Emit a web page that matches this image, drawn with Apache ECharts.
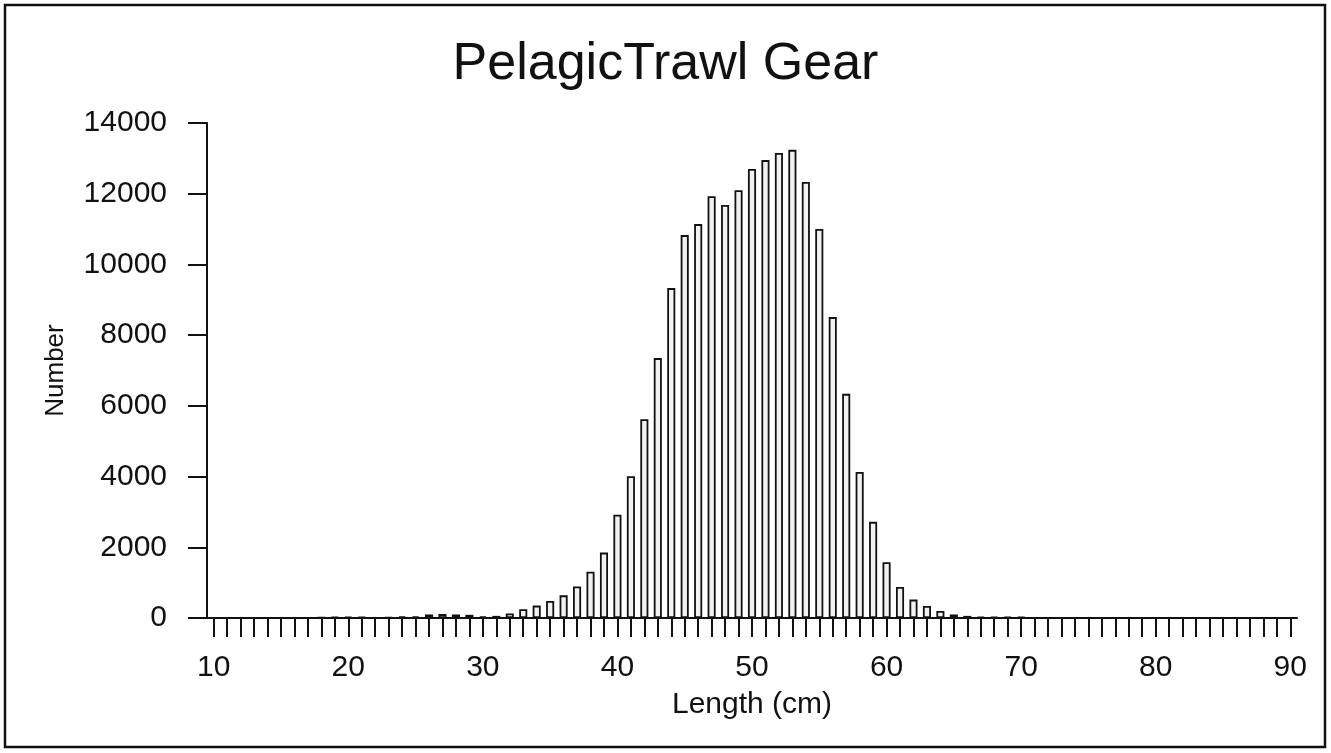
<!DOCTYPE html>
<html>
<head>
<meta charset="utf-8">
<script src="https://cdn.jsdelivr.net/npm/echarts@6/dist/echarts.min.js"></script>
<style>
html,body{margin:0;padding:0;background:#fff;}
#chart{width:1331px;height:753px;}
</style>
</head>
<body>
<div id="chart"></div>
<script>
// Lengths (cm) 10..90
const lengths = [10,11,12,13,14,15,16,17,18,19,20,21,22,23,24,25,26,27,28,29,30,
  31,32,33,34,35,36,37,38,39,40,41,42,43,44,45,46,47,48,49,50,
  51,52,53,54,55,56,57,58,59,60,61,62,63,64,65,66,67,68,69,70,
  71,72,73,74,75,76,77,78,79,80,81,82,83,84,85,86,87,88,89,90];
// Number of fish per length class
const numbers = [0,0,0,0,0,0,0,0,15,30,40,30,0,20,50,50,100,110,100,90,50,
  60,130,250,350,480,640,890,1310,1850,2920,4010,5620,7350,9330,10830,11140,11930,11680,12100,12700,
  12950,13150,13240,12330,11000,8510,6340,4130,2720,1580,880,520,340,200,100,60,40,40,30,30,
  10,10,10,0,0,0,0,0,0,0,0,0,0,0,0,0,0,0,0,0];
const yTicks = [0,2000,4000,6000,8000,10000,12000,14000];

const font = 'Liberation Sans, Arial, sans-serif';
const chart = echarts.init(document.getElementById('chart'));
chart.setOption({
  backgroundColor: '#fff',
  animation: false,
  title: {
    text: 'PelagicTrawl Gear',
    left: 'center',
    top: 34,
    textStyle: {fontFamily: font, fontSize: 52, fontWeight: 'normal', color: '#111'}
  },
  graphic: [{
    type: 'rect',
    shape: {x: 5, y: 5, width: 1320, height: 742},
    style: {fill: 'none', stroke: '#111', lineWidth: 2.5}
  }],
  grid: {left: 207, right: 34, top: 123, bottom: 135},
  xAxis: {
    type: 'category',
    data: lengths.map(String),
    boundaryGap: true,
    name: 'Length (cm)',
    nameLocation: 'middle',
    nameGap: 72,
    nameMoveOverlap: false,
    nameTextStyle: {fontFamily: font, fontSize: 30, color: '#111'},
    axisLine: {lineStyle: {color: '#111', width: 2}},
    axisTick: {show: true, alignWithLabel: true, interval: 0, length: 19, lineStyle: {color: '#111', width: 2}},
    axisLabel: {
      interval: function (idx, val) { return Number(val) % 10 === 0; },
      margin: 35,
      fontFamily: font, fontSize: 30, color: '#111'
    },
    splitLine: {show: false}
  },
  yAxis: {
    type: 'value',
    min: yTicks[0],
    max: yTicks[yTicks.length - 1],
    interval: 2000,
    name: 'Number',
    nameLocation: 'middle',
    nameGap: 138,
    nameMoveOverlap: false,
    nameRotate: 90,
    nameTextStyle: {fontFamily: font, fontSize: 26, color: '#111'},
    axisLine: {show: true, lineStyle: {color: '#111', width: 2}},
    axisTick: {show: true, length: 19, lineStyle: {color: '#111', width: 2}},
    axisLabel: {
      margin: 40, fontFamily: font, fontSize: 30, color: '#111',
      formatter: function (v) { return String(v); }
    },
    splitLine: {show: false}
  },
  series: [{
    type: 'bar',
    data: numbers,
    barCategoryGap: '40%',
    itemStyle: {color: '#f2f2f2', borderColor: '#111', borderWidth: 1.8}
  }]
});
</script>
</body>
</html>
